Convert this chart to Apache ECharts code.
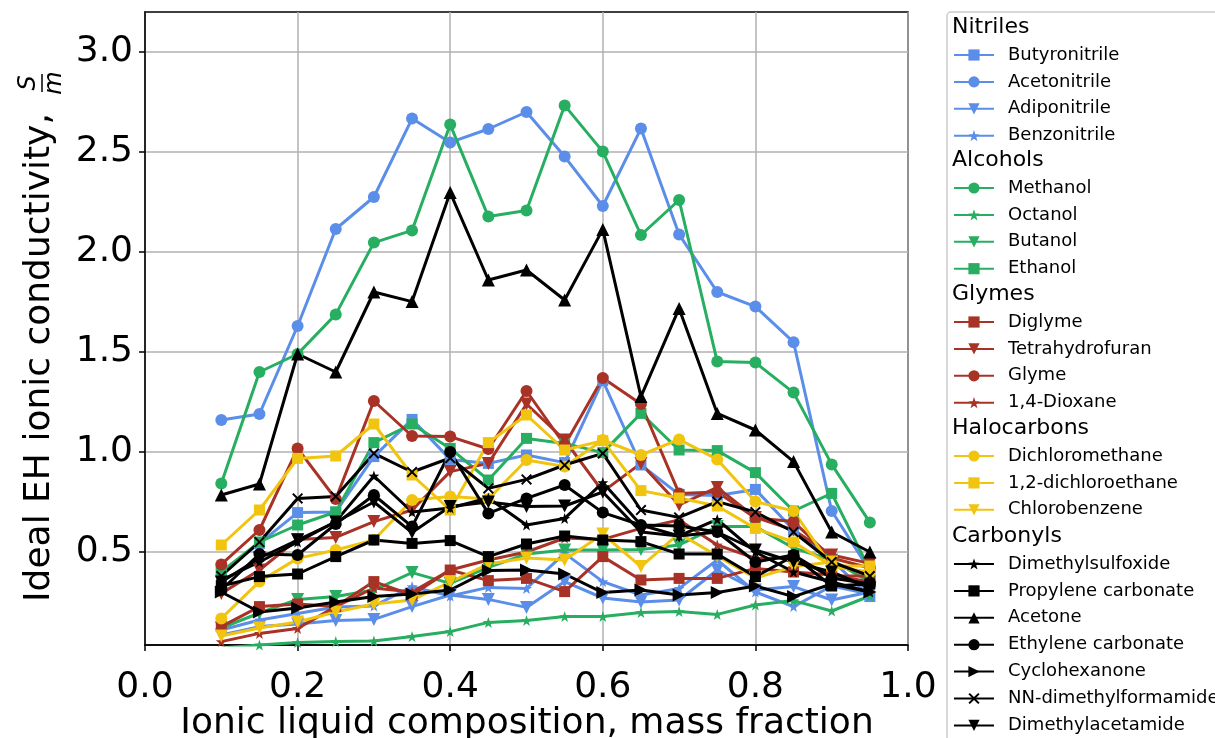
<!DOCTYPE html>
<html>
<head>
<meta charset="utf-8">
<script src="https://cdn.jsdelivr.net/npm/echarts@6/dist/echarts.min.js"></script>
<style>html,body{margin:0;padding:0;background:#fff;}#c{width:1215px;height:738px;}</style>
</head>
<body>
<div id="c"></div>
<script>
// ---- data ----
const xValues = [0.1,0.15,0.2,0.25,0.3,0.35,0.4,0.45,0.5,0.55,0.6,0.65,0.7,0.75,0.8,0.85,0.9,0.95];
const xTicks = [0,0.2,0.4,0.6,0.8,1.0];
const yTicks = [0.5,1.0,1.5,2.0,2.5,3.0];

// Nitriles
const butyronitrile = [0.397,0.543,0.697,0.70,0.977,1.163,0.963,0.943,0.985,0.947,1.357,0.935,0.788,0.783,0.813,0.61,0.46,0.277];
const acetonitrile  = [1.16,1.19,1.63,2.115,2.275,2.667,2.548,2.615,2.70,2.477,2.23,2.617,2.088,1.80,1.727,1.549,0.705,0.407];
const adiponitrile  = [0.085,0.127,0.14,0.157,0.163,0.227,0.285,0.263,0.223,0.352,0.27,0.25,0.26,0.41,0.31,0.327,0.26,0.30];
const benzonitrile  = [0.11,0.16,0.193,0.225,0.23,0.327,0.28,0.323,0.318,0.493,0.352,0.285,0.318,0.46,0.30,0.227,0.33,0.29];
// Alcohols
const methanol = [0.843,1.40,1.49,1.688,2.047,2.108,2.637,2.177,2.207,2.733,2.502,2.085,2.26,1.452,1.447,1.297,0.938,0.648];
const octanol  = [0.02,0.035,0.047,0.052,0.055,0.077,0.102,0.148,0.157,0.177,0.177,0.197,0.202,0.188,0.235,0.257,0.205,0.28];
const butanol  = [0.12,0.195,0.263,0.277,0.31,0.397,0.343,0.423,0.49,0.51,0.51,0.513,0.535,0.627,0.627,0.52,0.46,0.35];
const ethanol  = [0.40,0.55,0.635,0.70,1.047,1.14,1.018,0.86,1.068,1.043,0.997,1.193,1.01,1.007,0.897,0.705,0.793,0.41];
// Glymes
const diglyme = [0.127,0.227,0.24,0.227,0.352,0.285,0.41,0.357,0.368,0.302,0.477,0.36,0.368,0.368,0.418,0.40,0.385,0.35];
const thf     = [0.293,0.41,0.563,0.573,0.652,0.71,0.902,0.943,1.24,1.06,0.802,0.943,0.735,0.823,0.673,0.61,0.485,0.443];
const glyme   = [0.438,0.61,1.018,0.765,1.255,1.08,1.077,1.015,1.305,1.035,1.37,1.24,0.793,0.80,0.67,0.652,0.47,0.42];
const dioxane = [0.052,0.093,0.118,0.227,0.32,0.30,0.41,0.46,0.50,0.57,0.563,0.618,0.66,0.535,0.468,0.47,0.38,0.38];
// Halocarbons
const dichloromethane = [0.168,0.352,0.468,0.51,0.56,0.76,0.777,0.765,0.96,0.927,1.06,0.985,1.063,0.963,0.752,0.705,0.427,0.40];
const dichloroethane  = [0.535,0.71,0.968,0.98,1.14,0.885,0.71,1.047,1.185,1.01,1.057,0.807,0.77,0.73,0.618,0.55,0.43,0.43];
const chlorobenzene   = [0.08,0.12,0.15,0.2,0.24,0.26,0.35,0.44,0.47,0.46,0.59,0.427,0.593,0.48,0.37,0.427,0.45,0.38];
// Carbonyls
const dmso          = [0.36,0.45,0.55,0.652,0.88,0.70,0.72,0.77,0.635,0.668,0.847,0.635,0.58,0.663,0.50,0.40,0.35,0.30];
const pc            = [0.33,0.377,0.39,0.477,0.56,0.543,0.557,0.477,0.54,0.58,0.56,0.552,0.49,0.49,0.377,0.48,0.33,0.34];
const acetone       = [0.785,0.84,1.49,1.40,1.80,1.752,2.297,1.86,1.91,1.76,2.113,1.277,1.718,1.193,1.11,0.952,0.60,0.50];
const ec            = [0.31,0.49,0.485,0.64,0.785,0.627,1.0,0.693,0.768,0.835,0.697,0.635,0.63,0.60,0.45,0.485,0.37,0.34];
const cyclohexanone = [0.30,0.20,0.22,0.25,0.277,0.29,0.31,0.407,0.41,0.39,0.297,0.31,0.285,0.297,0.33,0.277,0.34,0.30];
const dmf           = [0.38,0.55,0.768,0.777,0.993,0.90,0.97,0.818,0.863,0.935,0.993,0.71,0.673,0.752,0.70,0.60,0.45,0.38];
const dmac          = [0.35,0.47,0.56,0.65,0.75,0.597,0.727,0.75,0.727,0.73,0.80,0.60,0.58,0.60,0.51,0.45,0.40,0.32];

const groups = [
  {title:'Nitriles', color:'#5b8ee8', items:[
    ['Butyronitrile', butyronitrile, 'rect'], ['Acetonitrile', acetonitrile, 'circle'],
    ['Adiponitrile', adiponitrile, 'tdown'], ['Benzonitrile', benzonitrile, 'star']]},
  {title:'Alcohols', color:'#27ae60', items:[
    ['Methanol', methanol, 'circle'], ['Octanol', octanol, 'star'],
    ['Butanol', butanol, 'tdown'], ['Ethanol', ethanol, 'rect']]},
  {title:'Glymes', color:'#a93226', items:[
    ['Diglyme', diglyme, 'rect'], ['Tetrahydrofuran', thf, 'tdown'],
    ['Glyme', glyme, 'circle'], ['1,4-Dioxane', dioxane, 'star']]},
  {title:'Halocarbons', color:'#f1c40f', items:[
    ['Dichloromethane', dichloromethane, 'circle'], ['1,2-dichloroethane', dichloroethane, 'rect'],
    ['Chlorobenzene', chlorobenzene, 'tdown']]},
  {title:'Carbonyls', color:'#000000', items:[
    ['Dimethylsulfoxide', dmso, 'star'], ['Propylene carbonate', pc, 'rect'],
    ['Acetone', acetone, 'tup'], ['Ethylene carbonate', ec, 'circle'],
    ['Cyclohexanone', cyclohexanone, 'tright'], ['NN-dimethylformamide', dmf, 'x'],
    ['Dimethylacetamide', dmac, 'tdown']]}
];

const STAR = 'path://M0,-10L2.35,-3.24L9.51,-3.09L3.8,1.24L5.88,8.09L0,4L-5.88,8.09L-3.8,1.24L-9.51,-3.09L-2.35,-3.24Z';
const XMARK = 'path://M-10,-7.5L-7.5,-10L0,-2.5L7.5,-10L10,-7.5L2.5,0L10,7.5L7.5,10L0,2.5L-7.5,10L-10,7.5L-2.5,0Z';
function markerSpec(m){
  switch(m){
    case 'rect': return {symbol:'rect', symbolSize:11, symbolRotate:0};
    case 'circle': return {symbol:'circle', symbolSize:12, symbolRotate:0};
    case 'tdown': return {symbol:'triangle', symbolSize:13, symbolRotate:180};
    case 'tup': return {symbol:'triangle', symbolSize:13, symbolRotate:0};
    case 'tright': return {symbol:'triangle', symbolSize:13, symbolRotate:-90};
    case 'star': return {symbol:STAR, symbolSize:11, symbolRotate:0};
    case 'x': return {symbol:XMARK, symbolSize:11, symbolRotate:0};
  }
}

const series = [];
const legends = [];
const graphics = [];
const FONT = 'DejaVu Sans';
const headY = [27,160,294,428,536];
groups.forEach((g, gi) => {
  const names = [];
  g.items.forEach(([name, vals, m]) => {
    names.push(name);
    const ms = markerSpec(m);
    series.push(Object.assign({
      name: name, type:'line',
      data: xValues.map((x,i)=>[x, vals[i]]),
      showSymbol: true,
      lineStyle:{color:g.color, width:3},
      itemStyle:{color:g.color},
      emphasis:{disabled:true},
      clip:true,
      z:3
    }, ms));
  });
  legends.push({
    left: 953, top: headY[gi] + 27 - 9, orient:'vertical', padding:0,
    itemWidth:40, itemHeight:14, itemGap:6.9, selectedMode:false,
    data: names,
    textStyle:{fontSize:18, color:'#000', fontFamily:FONT, lineHeight:20, padding:[0,0,0,9]}
  });
  graphics.push({type:'text', x:952, y:headY[gi], z:10,
    style:{text:g.title, font:'22px "DejaVu Sans"', fill:'#000', textVerticalAlign:'middle', textAlign:'left'}});
});

graphics.unshift({type:'rect', shape:{x:947, y:12, width:300, height:780, r:4},
  style:{fill:'rgba(255,255,255,0.9)', stroke:'#cccccc', lineWidth:1.5}, z:1});

// axis titles
graphics.push({type:'text', x:527, y:724, z:10,
  style:{text:'Ionic liquid composition, mass fraction', font:'36px "DejaVu Sans"', fill:'#000', textAlign:'center', textVerticalAlign:'middle'}});
graphics.push({type:'group', x:40, y:602, rotation:Math.PI/2, z:10, children:[
  {type:'text', x:0, y:0, style:{text:'Ideal EH ionic conductivity,', font:'36px "DejaVu Sans"', fill:'#000', textAlign:'left', textVerticalAlign:'middle'}},
  {type:'text', x:519, y:-11, style:{text:'S', font:'italic 24px "DejaVu Sans"', fill:'#000', textAlign:'center', textVerticalAlign:'middle'}},
  {type:'line', shape:{x1:510, y1:2, x2:528, y2:2}, style:{stroke:'#000', lineWidth:1.5}},
  {type:'text', x:519, y:15, style:{text:'m', font:'italic 24px "DejaVu Sans"', fill:'#000', textAlign:'center', textVerticalAlign:'middle'}}
]});

const chart = echarts.init(document.getElementById('c'), null, {renderer:'canvas'});
chart.setOption({
  animation:false,
  backgroundColor:'#fff',
  grid:{left:145, right:307, top:12, bottom:93, show:true, borderColor:'#000', borderWidth:1.5, backgroundColor:'transparent'},
  xAxis:{type:'value', min:0, max:1, interval:0.2,
    axisLine:{show:true, onZero:false, lineStyle:{color:'#000', width:1.5}},
    axisTick:{show:true, length:6, lineStyle:{color:'#000', width:1.5}},
    axisLabel:{fontSize:36, color:'#000', fontFamily:FONT, margin:25, formatter:v=>v.toFixed(1), showMinLabel:true, showMaxLabel:true},
    splitLine:{show:true, lineStyle:{color:'#b0b0b0', width:1.5}}},
  yAxis:{type:'value', min:0.035, max:3.2,
    axisLine:{show:true, onZero:false, lineStyle:{color:'#000', width:1.5}},
    axisTick:{show:true, length:6, customValues:yTicks, lineStyle:{color:'#000', width:1.5}},
    axisLabel:{fontSize:36, color:'#000', fontFamily:FONT, margin:12, customValues:yTicks, formatter:v=>v.toFixed(1)},
    splitLine:{show:true, lineStyle:{color:'#b0b0b0', width:1.5}}},
  legend: legends,
  graphic: graphics,
  series: series
});
</script>
</body>
</html>
